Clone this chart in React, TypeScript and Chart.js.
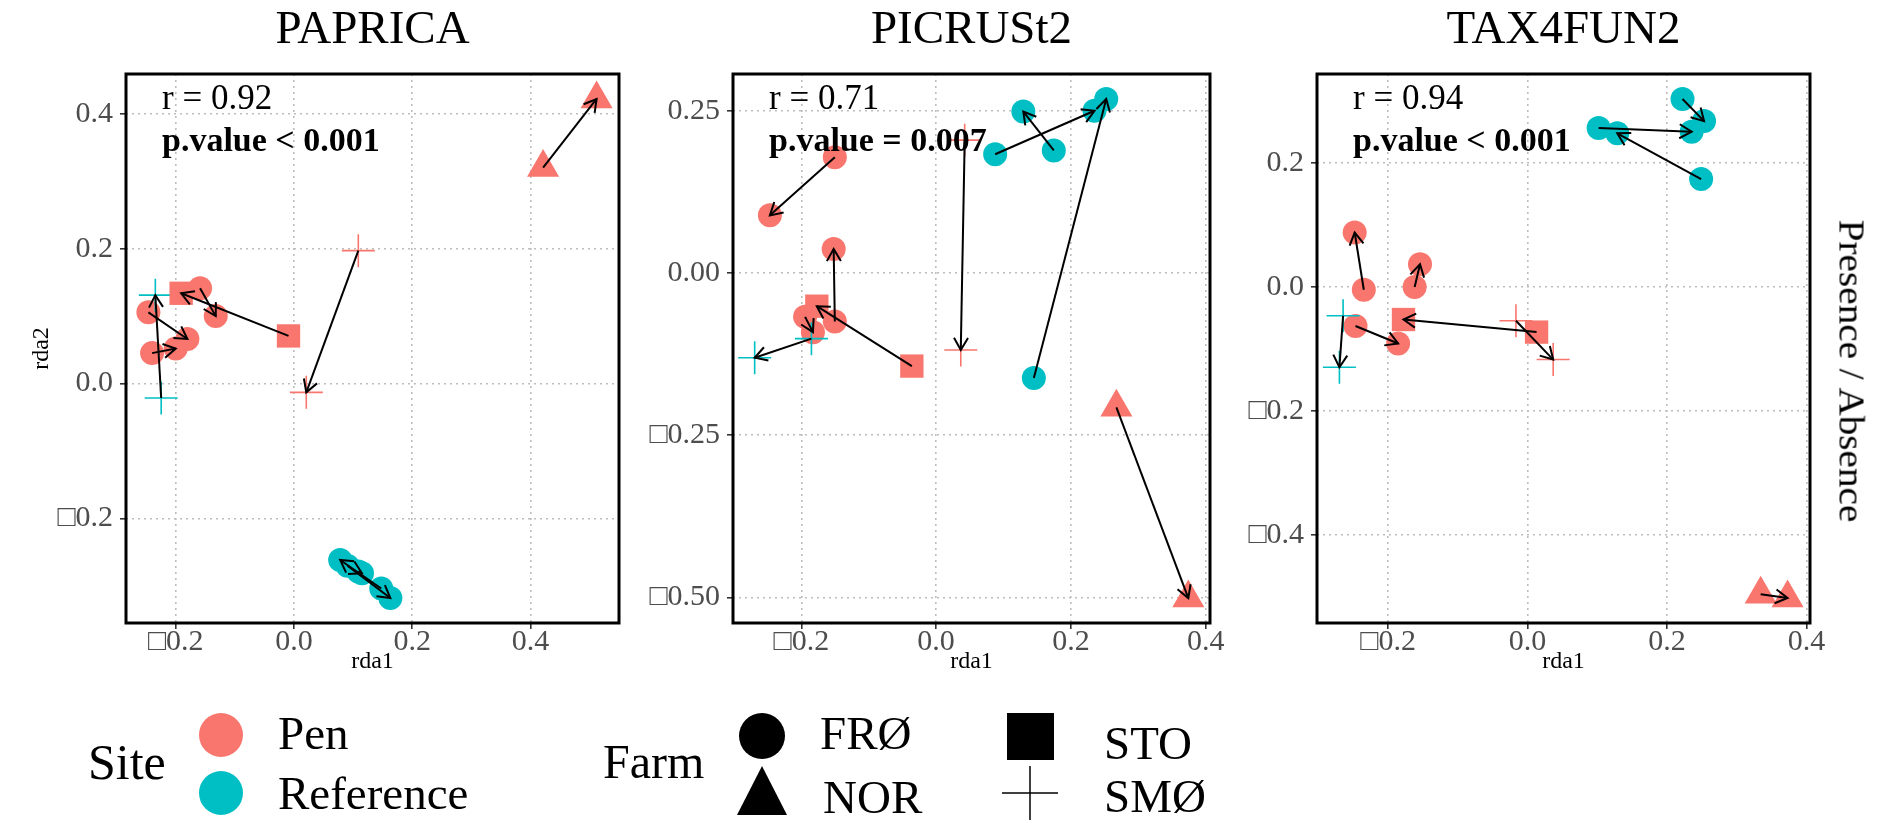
import React, { useEffect, useRef } from "react";
import { Chart, registerables } from "chart.js";

Chart.register(...registerables);

const FONT = '"Liberation Serif", "Times New Roman", Times, serif';
const PEN_COLOR = "#F8766D";
const REF_COLOR = "#00BFC4";

// ---- samples (same order in every panel) ----
const sampleSite = ["Pen", "Pen", "Pen", "Reference", "Pen", "Pen", "Pen", "Reference", "Reference", "Reference"];
const sampleFarm = ["NOR", "SMØ", "STO", "SMØ", "FRØ", "FRØ", "FRØ", "FRØ", "FRØ", "FRØ"];

// ---- PAPRICA (arrow start -> arrow end) ----
const papricaX1 = [0.4215, 0.1089, -0.0092, -0.2246, -0.2462, -0.24, -0.1588, 0.1477, 0.0905, 0.1089];
const papricaY1 = [0.3206, 0.1973, 0.0707, -0.0215, 0.1057, 0.0452, 0.1414, -0.3042, -0.2703, -0.2788];
const papricaX2 = [0.512, 0.0209, -0.1908, -0.2345, -0.1803, -0.2, -0.1323, 0.0782, 0.1631, 0.1151];
const papricaY2 = [0.4224, -0.013, 0.134, 0.1312, 0.0662, 0.052, 0.1001, -0.2618, -0.3183, -0.2816];

// ---- PICRUSt2 ----
const picrustX1 = [0.2675, 0.0424, -0.036, -0.185, -0.1503, -0.1503, -0.1944, 0.145, 0.0876, 0.1746];
const picrustY1 = [-0.207, 0.2047, -0.1435, -0.1012, 0.1782, -0.0747, -0.0676, -0.1618, 0.183, 0.1888];
const picrustX2 = [0.3742, 0.0366, -0.177, -0.2692, -0.2466, -0.152, -0.1828, 0.2524, 0.235, 0.1294];
const picrustY2 = [-0.501, -0.1188, -0.0512, -0.1306, 0.0888, 0.0371, -0.0912, 0.2682, 0.25, 0.2488];

// ---- TAX4FUN2 ----
const tax4funX1 = [0.3344, -0.0166, 0.013, -0.2645, -0.2348, -0.1619, -0.2467, 0.2223, 0.102, 0.249];
const tax4funY1 = [-0.4954, -0.0542, -0.0726, -0.0462, -0.0043, 0.0, -0.0628, 0.3034, 0.2566, 0.1742];
const tax4funX2 = [0.373, 0.0368, -0.1779, -0.2698, -0.2479, -0.1542, -0.1856, 0.2532, 0.2354, 0.1287];
const tax4funY2 = [-0.5015, -0.1169, -0.0523, -0.1292, 0.088, 0.0369, -0.091, 0.2677, 0.2505, 0.248];

// ---- ticks ----
const papricaXTicks = [-0.2, 0, 0.2, 0.4];
const papricaXLabels = ["\u25A10.2", "0.0", "0.2", "0.4"];
const papricaYTicks = [-0.2, 0, 0.2, 0.4];
const papricaYLabels = ["\u25A10.2", "0.0", "0.2", "0.4"];
const picrustXTicks = [-0.2, 0, 0.2, 0.4];
const picrustXLabels = ["\u25A10.2", "0.0", "0.2", "0.4"];
const picrustYTicks = [-0.5, -0.25, 0, 0.25];
const picrustYLabels = ["\u25A10.50", "\u25A10.25", "0.00", "0.25"];
const tax4funXTicks = [-0.2, 0, 0.2, 0.4];
const tax4funXLabels = ["\u25A10.2", "0.0", "0.2", "0.4"];
const tax4funYTicks = [-0.4, -0.2, 0, 0.2];
const tax4funYLabels = ["\u25A10.4", "\u25A10.2", "0.0", "0.2"];

const panelTitles = ["PAPRICA", "PICRUSt2", "TAX4FUN2"];
const panelR = ["r = 0.92", "r = 0.71", "r = 0.94"];
const panelP = ["p.value < 0.001", "p.value = 0.007", "p.value < 0.001"];

const legendSites = ["Pen", "Reference"];
const legendFarms = ["FRØ", "NOR", "STO", "SMØ"];

const farmStyle: Record<string, { style: string; radius: number; border: number }> = {
  "FRØ": { style: "circle", radius: 12, border: 0 },
  NOR: { style: "triangle", radius: 18.5, border: 0 },
  STO: { style: "rect", radius: 16.5, border: 0 },
  "SMØ": { style: "cross", radius: 16.5, border: 1.6 },
};
const siteColor: Record<string, string> = { Pen: PEN_COLOR, Reference: REF_COLOR };

type Panel = {
  idx: number;
  x1: number[]; y1: number[]; x2: number[]; y2: number[];
  xTicks: number[]; xLabels: string[]; yTicks: number[]; yLabels: string[];
  left: number; width: number; yAxisWidth: number; padRight: number; yTitle: boolean;
};

const panels: Panel[] = [
  { idx: 0, x1: papricaX1, y1: papricaY1, x2: papricaX2, y2: papricaY2, xTicks: papricaXTicks, xLabels: papricaXLabels, yTicks: papricaYTicks, yLabels: papricaYLabels, left: 0, width: 640, yAxisWidth: 126, padRight: 21, yTitle: true },
  { idx: 1, x1: picrustX1, y1: picrustY1, x2: picrustX2, y2: picrustY2, xTicks: picrustXTicks, xLabels: picrustXLabels, yTicks: picrustYTicks, yLabels: picrustYLabels, left: 640, width: 610, yAxisWidth: 93, padRight: 40, yTitle: false },
  { idx: 2, x1: tax4funX1, y1: tax4funY1, x2: tax4funX2, y2: tax4funY2, xTicks: tax4funXTicks, xLabels: tax4funXLabels, yTicks: tax4funYTicks, yLabels: tax4funYLabels, left: 1240, width: 620, yAxisWidth: 77, padRight: 50, yTitle: false },
];

const CANVAS_H = 700;
const TOP = 74;
const X_AXIS_H = 77;

function expandRange(a: number[], b: number[]): [number, number] {
  const all = a.concat(b);
  const mn = Math.min(...all);
  const mx = Math.max(...all);
  const pad = (mx - mn) * 0.05;
  return [mn - pad, mx + pad];
}

function PanelChart({ p }: { p: Panel }) {
  const ref = useRef<HTMLCanvasElement | null>(null);
  useEffect(() => {
    const canvas = ref.current;
    if (!canvas) return;
    const xr = expandRange(p.x1, p.x2);
    const yr = expandRange(p.y1, p.y2);

    const groups: { site: string; farm: string }[] = [];
    sampleSite.forEach((s, i) => {
      if (!groups.find((g) => g.site === s && g.farm === sampleFarm[i])) groups.push({ site: s, farm: sampleFarm[i] });
    });
    const datasets = groups.map((g) => {
      const pts: { x: number; y: number }[] = [];
      sampleSite.forEach((s, i) => {
        if (s === g.site && sampleFarm[i] === g.farm) {
          pts.push({ x: p.x1[i], y: p.y1[i] });
          pts.push({ x: p.x2[i], y: p.y2[i] });
        }
      });
      const st = farmStyle[g.farm];
      return {
        label: g.site + " " + g.farm,
        data: pts,
        pointStyle: st.style,
        pointRadius: st.radius,
        pointBorderWidth: st.border,
        backgroundColor: siteColor[g.site],
        borderColor: siteColor[g.site],
        pointBackgroundColor: siteColor[g.site],
        pointBorderColor: siteColor[g.site],
      };
    });

    const overlay = {
      id: "overlay" + p.idx,
      afterDatasetsDraw(chart: any) {
        const { ctx, chartArea: a } = chart;
        const xs = chart.scales.x;
        const ys = chart.scales.y;
        ctx.save();
        ctx.beginPath();
        ctx.rect(a.left, a.top, a.right - a.left, a.bottom - a.top);
        ctx.clip();
        ctx.strokeStyle = "#000";
        ctx.lineWidth = 2;
        for (let i = 0; i < p.x1.length; i++) {
          const sx = xs.getPixelForValue(p.x1[i]);
          const sy = ys.getPixelForValue(p.y1[i]);
          const ex = xs.getPixelForValue(p.x2[i]);
          const ey = ys.getPixelForValue(p.y2[i]);
          ctx.beginPath();
          ctx.moveTo(sx, sy);
          ctx.lineTo(ex, ey);
          ctx.stroke();
          const ang = Math.atan2(ey - sy, ex - sx);
          const L = 14;
          const A = Math.PI / 6;
          ctx.beginPath();
          ctx.moveTo(ex - L * Math.cos(ang - A), ey - L * Math.sin(ang - A));
          ctx.lineTo(ex, ey);
          ctx.lineTo(ex - L * Math.cos(ang + A), ey - L * Math.sin(ang + A));
          ctx.stroke();
        }
        // annotation text
        ctx.fillStyle = "#000";
        ctx.textAlign = "left";
        ctx.textBaseline = "alphabetic";
        ctx.font = `35px ${FONT}`;
        ctx.fillText(panelR[p.idx], a.left + 36, 109);
        ctx.font = `bold 34px ${FONT}`;
        ctx.fillText(panelP[p.idx], a.left + 36, 151);
        ctx.restore();

        // panel border
        ctx.save();
        ctx.strokeStyle = "#000";
        ctx.lineWidth = 3;
        ctx.strokeRect(a.left, a.top, a.right - a.left, a.bottom - a.top);
        // title
        ctx.fillStyle = "#000";
        ctx.font = `47px ${FONT}`;
        ctx.textAlign = "center";
        ctx.textBaseline = "alphabetic";
        ctx.fillText(panelTitles[p.idx], (a.left + a.right) / 2, 43);
        ctx.restore();
      },
    };

    const mkScale = (axis: "x" | "y", ticksV: number[], labels: string[], range: [number, number], fit: number, title: string | null) => ({
      type: "linear",
      position: axis === "x" ? "bottom" : "left",
      min: range[0],
      max: range[1],
      afterBuildTicks: (s: any) => {
        s.ticks = ticksV.map((v) => ({ value: v }));
      },
      afterFit: (s: any) => {
        if (axis === "x") s.height = fit;
        else s.width = fit;
      },
      grid: {
        color: "#bdbdbd",
        lineWidth: 1.6,
        drawTicks: true,
        tickLength: 6,
        tickColor: "#333333",
        tickWidth: 1.6,
        tickBorderDash: [],
      },
      border: { display: false, dash: [2, 4] },
      ticks: {
        autoSkip: false,
        maxRotation: 0,
        minRotation: 0,
        padding: axis === "x" ? -5 : 7,
        color: "#4d4d4d",
        font: { family: FONT, size: 30 },
        callback: (_v: any, i: number) => labels[i],
      },
      title: title
        ? {
            display: true,
            text: title,
            color: "#000",
            font: { family: FONT, size: 24 },
            padding: axis === "x" ? { top: 0, bottom: 24 } : { top: 27, bottom: 0 },
          }
        : { display: false },
    });

    const chart = new Chart(canvas, {
      type: "scatter",
      data: { datasets: datasets as any },
      options: {
        animation: false,
        responsive: false,
        events: [],
        layout: { padding: { top: TOP, left: 0, right: p.padRight, bottom: 0 } },
        plugins: { legend: { display: false }, tooltip: { enabled: false }, title: { display: false } },
        scales: {
          x: mkScale("x", p.xTicks, p.xLabels, xr, X_AXIS_H, "rda1") as any,
          y: mkScale("y", p.yTicks, p.yLabels, yr, p.yAxisWidth, p.yTitle ? "rda2" : null) as any,
        },
      },
      plugins: [overlay as any],
    });
    return () => chart.destroy();
  }, [p]);
  return (
    <canvas
      ref={ref}
      width={p.width}
      height={CANVAS_H}
      style={{ position: "absolute", left: p.left, top: 0, width: p.width, height: CANVAS_H }}
    />
  );
}

const textStyle = (left: number, cy: number, size = 47): React.CSSProperties => ({
  position: "absolute",
  left,
  top: cy,
  transform: "translateY(-50%)",
  fontFamily: FONT,
  fontSize: size,
  lineHeight: 1,
  whiteSpace: "nowrap",
  color: "#000",
});

export default function App() {
  return (
    <div style={{ position: "absolute", left: 0, top: 0, width: 1888, height: 825, background: "#fff", overflow: "hidden" }}>
      {panels.map((p) => (
        <PanelChart key={p.idx} p={p} />
      ))}
      <div
        style={{
          position: "absolute",
          left: 1851,
          top: 371,
          transform: "translate(-50%, -50%) rotate(90deg) scaleX(1.12)",
          fontFamily: FONT,
          fontSize: 35,
          lineHeight: 1,
          whiteSpace: "nowrap",
          color: "#000",
        }}
      >
        Presence / Absence
      </div>

      {/* legend */}
      <svg style={{ position: "absolute", left: 0, top: 680 }} width={1250} height={145}>
        <circle cx={221} cy={735 - 680} r={22} fill={PEN_COLOR} />
        <circle cx={221} cy={793 - 680} r={22} fill={REF_COLOR} />
        <circle cx={762} cy={736 - 680} r={23} fill="#000" />
        <polygon points={`${762},${766 - 680} ${787},${815 - 680} ${737},${815 - 680}`} fill="#000" />
        <rect x={1007} y={713 - 680} width={47} height={47} fill="#000" />
        <line x1={1002} y1={793 - 680} x2={1058} y2={793 - 680} stroke="#000" strokeWidth={1.5} />
        <line x1={1030} y1={766 - 680} x2={1030} y2={820 - 680} stroke="#000" strokeWidth={1.5} />
      </svg>
      <div style={textStyle(88, 762, 50)}>Site</div>
      <div style={textStyle(278, 733)}>{legendSites[0]}</div>
      <div style={textStyle(278, 793)}>{legendSites[1]}</div>
      <div style={textStyle(603, 762, 48)}>Farm</div>
      <div style={textStyle(820, 733)}>{legendFarms[0]}</div>
      <div style={textStyle(823, 797)}>{legendFarms[1]}</div>
      <div style={textStyle(1104, 743)}>{legendFarms[2]}</div>
      <div style={textStyle(1104, 796)}>{legendFarms[3]}</div>
    </div>
  );
}
